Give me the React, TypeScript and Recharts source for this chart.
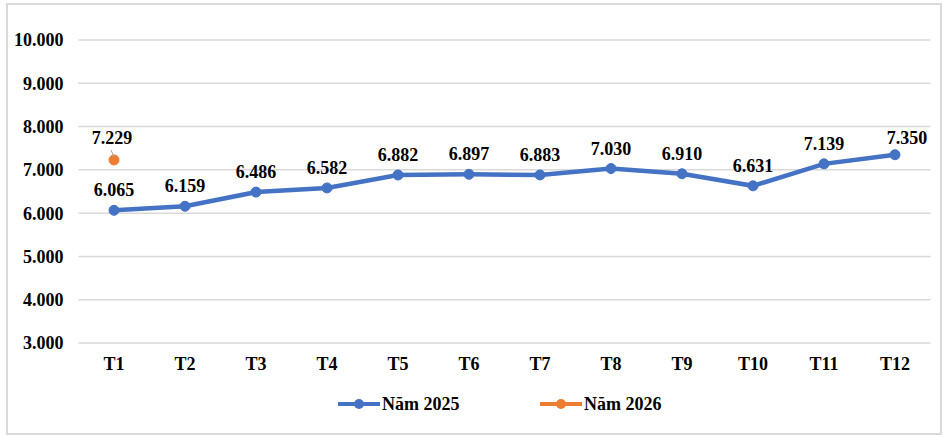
import { LineChart, Line, XAxis, YAxis, CartesianGrid, Legend, LabelList } from 'recharts'

const months = ['T1', 'T2', 'T3', 'T4', 'T5', 'T6', 'T7', 'T8', 'T9', 'T10', 'T11', 'T12']
const nam2025 = [6065, 6159, 6486, 6582, 6882, 6897, 6883, 7030, 6910, 6631, 7139, 7350]
const nam2026: (number | null)[] = [7229, null, null, null, null, null, null, null, null, null, null, null]
const yTicks = [3000, 4000, 5000, 6000, 7000, 8000, 9000, 10000]

const BLUE = '#4472C4'
const ORANGE = '#ED7D31'
const FONT = '"Liberation Serif", "Times New Roman", serif'
const FS = 18

const fmt = (v: number) => v.toLocaleString('de-DE')

const chartData = months.map((m, i) => ({ month: m, y2025: nam2025[i], y2026: nam2026[i] }))

function Label2025(props: any) {
  const { x, y, value, index } = props
  if (value == null) return null
  const dx = index === 11 ? 12 : 0
  const dy = index === 11 ? -11 : -14
  return (
    <text x={x + dx} y={y + dy} textAnchor="middle" fontFamily={FONT} fontWeight="bold" fontSize={FS} fill="#000">
      {fmt(value)}
    </text>
  )
}

function Label2026(props: any) {
  const { x, y, value } = props
  if (value == null) return null
  return (
    <g>
      <line x1={x - 3} y1={y - 10} x2={x} y2={y - 3} stroke="#a6a6a6" strokeWidth={1} />
      <text x={x - 2} y={y - 16} textAnchor="middle" fontFamily={FONT} fontWeight="bold" fontSize={FS} fill="#000">
        {fmt(value)}
      </text>
    </g>
  )
}

function LegendContent() {
  const items = [
    { name: 'Năm 2025', color: BLUE, x: 338 },
    { name: 'Năm 2026', color: ORANGE, x: 540 },
  ]
  return (
    <svg width={947} height={30}>
      {items.map((it) => (
        <g key={it.name}>
          <line x1={it.x} y1={15} x2={it.x + 42} y2={15} stroke={it.color} strokeWidth={4} />
          <circle cx={it.x + 21} cy={15} r={5} fill={it.color} />
          <text x={it.x + 44} y={21} fontFamily={FONT} fontWeight="bold" fontSize={FS} fill="#000">
            {it.name}
          </text>
        </g>
      ))}
    </svg>
  )
}

export default function App() {
  return (
    <div style={{ position: 'absolute', left: 0, top: 0, width: 947, height: 435, background: '#fff' }}>
      <div
        style={{
          position: 'absolute',
          left: 6,
          top: 3,
          width: 932,
          height: 428,
          border: '2px solid #d9d9d9',
        }}
      />
      <LineChart width={947} height={435} data={chartData} margin={{ top: 40, right: 16.5, left: 8.5, bottom: 62 }}>
        <CartesianGrid vertical={false} stroke="#d9d9d9" strokeWidth={1.5} />
        <XAxis
          dataKey="month"
          axisLine={false}
          tickLine={false}
          tickSize={0}
          tickMargin={14}
          height={30}
          padding={{ left: 35.5, right: 35.5 }}
          tick={{ fontFamily: FONT, fontWeight: 'bold', fontSize: FS, fill: '#000' }}
        />
        <YAxis
          domain={[3000, 10000]}
          ticks={yTicks}
          width={70}
          axisLine={false}
          tickLine={false}
          tickSize={0}
          tickMargin={15}
          tickFormatter={fmt}
          tick={{ fontFamily: FONT, fontWeight: 'bold', fontSize: FS, fill: '#000' }}
        />
        <Legend
          verticalAlign="middle"
          layout="horizontal"
          content={<LegendContent />}
          wrapperStyle={{ top: 389, left: 0, width: 947, height: 30 }}
        />
        <Line
          dataKey="y2025"
          name="Năm 2025"
          stroke={BLUE}
          strokeWidth={4.5}
          dot={{ r: 5, fill: BLUE, stroke: BLUE, strokeWidth: 1 }}
          isAnimationActive={false}
        >
          <LabelList dataKey="y2025" content={<Label2025 />} />
        </Line>
        <Line
          dataKey="y2026"
          name="Năm 2026"
          stroke={ORANGE}
          strokeWidth={4.5}
          dot={{ r: 5, fill: ORANGE, stroke: ORANGE, strokeWidth: 1 }}
          isAnimationActive={false}
        >
          <LabelList dataKey="y2026" content={<Label2026 />} />
        </Line>
      </LineChart>
    </div>
  )
}
